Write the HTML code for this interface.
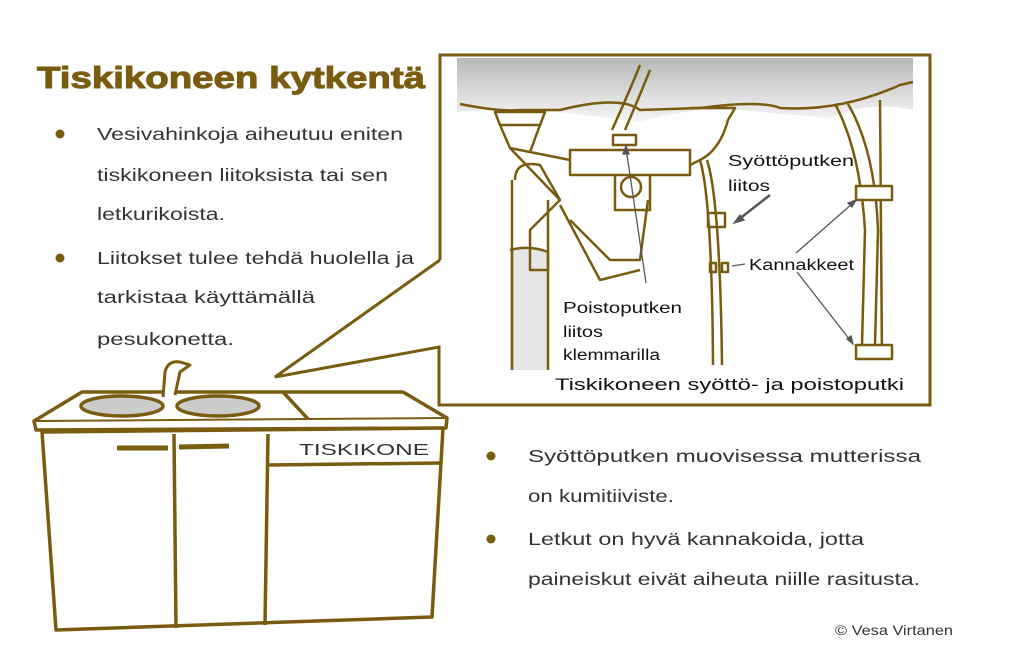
<!DOCTYPE html>
<html><head><meta charset="utf-8"><style>
html,body{margin:0;padding:0;background:#fff;}
svg{display:block}
text{font-family:"Liberation Sans",sans-serif;}
</style></head><body>
<svg width="1024" height="661" viewBox="0 0 1024 661" xmlns="http://www.w3.org/2000/svg">
<defs>
<linearGradient id="g" x1="0" y1="0" x2="0" y2="1">
<stop offset="0" stop-color="#b8b8b8"/><stop offset="0.6" stop-color="#dedede"/><stop offset="1" stop-color="#f6f6f6"/>
</linearGradient>
</defs>
<text x="37" y="88" font-size="31" font-weight="bold" fill="#7a5c10" textLength="388" lengthAdjust="spacingAndGlyphs" stroke="#7a5c10" stroke-width="1">Tiskikoneen kytkentä</text>
<g fill="#333" font-size="17.5">
<circle cx="60" cy="134" r="4.5" fill="#7a5c10"/>
<text x="97" y="140" textLength="306" lengthAdjust="spacingAndGlyphs">Vesivahinkoja aiheutuu eniten</text>
<text x="97" y="181" textLength="291" lengthAdjust="spacingAndGlyphs">tiskikoneen liitoksista tai sen</text>
<text x="97" y="220" textLength="128" lengthAdjust="spacingAndGlyphs">letkurikoista.</text>
<circle cx="60" cy="258" r="4.5" fill="#7a5c10"/>
<text x="97" y="264" textLength="317" lengthAdjust="spacingAndGlyphs">Liitokset tulee tehdä huolella ja</text>
<text x="97" y="303" textLength="218" lengthAdjust="spacingAndGlyphs">tarkistaa käyttämällä</text>
<text x="97" y="345" textLength="137" lengthAdjust="spacingAndGlyphs">pesukonetta.</text>
<circle cx="491" cy="456" r="4.5" fill="#7a5c10"/>
<text x="528" y="462" textLength="393" lengthAdjust="spacingAndGlyphs">Syöttöputken muovisessa mutterissa</text>
<text x="528" y="502" textLength="146" lengthAdjust="spacingAndGlyphs">on kumitiiviste.</text>
<circle cx="491" cy="539" r="4.5" fill="#7a5c10"/>
<text x="528" y="545" textLength="336" lengthAdjust="spacingAndGlyphs">Letkut on hyvä kannakoida, jotta</text>
<text x="528" y="585" textLength="392" lengthAdjust="spacingAndGlyphs">paineiskut eivät aiheuta niille rasitusta.</text>
</g>
<text x="835" y="635" font-size="14" fill="#333" textLength="118" lengthAdjust="spacingAndGlyphs">© Vesa Virtanen</text>

<rect x="457" y="58" width="456" height="330" fill="#fff"/>
<path d="M457 58 H913 V110 Q870 100 830 118 L760 112 Q700 104 640 122 L560 112 Q500 108 457 112 Z" fill="url(#g)"/>
<path d="M510 250 Q530 245 548 252 V370 H510 Z" fill="#e6e6e6"/>
<g fill="none" stroke="#7a5c10" stroke-width="2.5" stroke-linejoin="round">
<path d="M460 104 Q500 112 520 110 L560 110 Q620 95 640 110 L700 108 Q760 100 780 108 Q840 112 900 85 L913 82"/>
<path d="M495 112 H545 L540 125 H500 Z"/>
<path d="M500 125 L510 148 L530 152 L540 125"/>
<path d="M510 148 L560 200"/>
<path d="M530 152 L570 160"/>
<path d="M515 180 Q515 160 540 165 L560 200 L530 230 L530 270 H548 V200"/>
<path d="M512 180 V370 M548 252 V370"/>
<path d="M510 250 Q530 245 548 252"/>
<path d="M570 150 H690 V175 H570 Z"/>
<path d="M615 175 V210 H650 V175"/>
<circle cx="631" cy="187" r="10"/>
<path d="M570 220 L610 260 L640 260 L648 200"/>
<path d="M560 205 L600 280 L640 270"/>
<path d="M612 130 Q630 90 640 65"/>
<path d="M625 130 Q640 95 650 70"/>
<rect x="613" y="135" width="23" height="10"/>
<path d="M690 108 H735 L728 120 Q720 150 700 160 L690 165"/>
<path d="M700 160 Q712 200 713 365"/>
<path d="M707 160 Q720 200 722 365"/>
<rect x="708" y="213" width="17" height="14"/>
<rect x="710" y="263" width="6" height="9"/>
<rect x="722" y="263" width="6" height="9"/>
<path d="M835 104 Q860 150 865 230 L862 345"/>
<path d="M848 104 Q875 150 878 230 L875 345"/>
<path d="M880 100 L882 360"/>
<rect x="856" y="186" width="36" height="14" fill="#fff"/>
<rect x="856" y="345" width="36" height="14" fill="#fff"/>
</g>
<g stroke="#555" stroke-width="1.3" fill="#555">
<line x1="646" y1="283" x2="626" y2="148"/><path d="M626 146 l-3 8 l6 0z"/>
<line x1="770" y1="195" x2="738" y2="220" stroke-width="2.5"/><path d="M734 223 l10 -3 l-4 -5z"/>
<line x1="745" y1="264" x2="732" y2="266"/>
<line x1="796" y1="253" x2="853" y2="203"/><path d="M856 200 l-8 3 l4 4z"/>
<line x1="797" y1="272" x2="850" y2="340"/><path d="M853 344 l-2 -8 l-4 3z"/>
</g>
<g fill="#111" font-size="15.5">
<text x="728" y="166" textLength="126" lengthAdjust="spacingAndGlyphs">Syöttöputken</text>
<text x="728" y="191" textLength="42" lengthAdjust="spacingAndGlyphs">liitos</text>
<text x="749" y="270" textLength="105" lengthAdjust="spacingAndGlyphs">Kannakkeet</text>
<text x="563" y="313" textLength="119" lengthAdjust="spacingAndGlyphs">Poistoputken</text>
<text x="563" y="337" textLength="40" lengthAdjust="spacingAndGlyphs">liitos</text>
<text x="563" y="360" textLength="97" lengthAdjust="spacingAndGlyphs">klemmarilla</text>
<text x="555" y="390" font-size="17" textLength="349" lengthAdjust="spacingAndGlyphs">Tiskikoneen syöttö- ja poistoputki</text>
</g>
<path d="M440 260 V55 H930 V405 H439 V347 L275 377 L440 260" fill="none" stroke="#7a5c10" stroke-width="3" stroke-linejoin="miter"/>

<g fill="none" stroke="#7a5c10" stroke-width="3.5" stroke-linejoin="round">
<path d="M34 421 L82 392 L403 392 L447 418 L446 428 L36 430 Z" fill="#fff"/>
<path d="M36 421 L447 418" stroke-width="2"/>
<path d="M283 392 L308 419"/>
<ellipse cx="122" cy="406" rx="41" ry="10" fill="#ccc"/>
<ellipse cx="218" cy="406" rx="41" ry="10" fill="#ccc"/>
<path d="M163 397 L165 372 Q168 360 180 362 L190 365 L180 372 L175 395" fill="#fff" stroke-width="3"/>
<path d="M42 432 L443 428 L432 617 L56 630 Z" fill="#fff"/>
<path d="M174 434 L176 628"/>
<path d="M268 434 L265 625"/>
<path d="M269 465 L441 463"/>
<path d="M117 448 L168 448 M179 447 L229 446" stroke-width="5"/>
</g>
<text x="299" y="455" font-size="16" fill="#333" textLength="130" lengthAdjust="spacingAndGlyphs">TISKIKONE</text>
</svg>
</body></html>
